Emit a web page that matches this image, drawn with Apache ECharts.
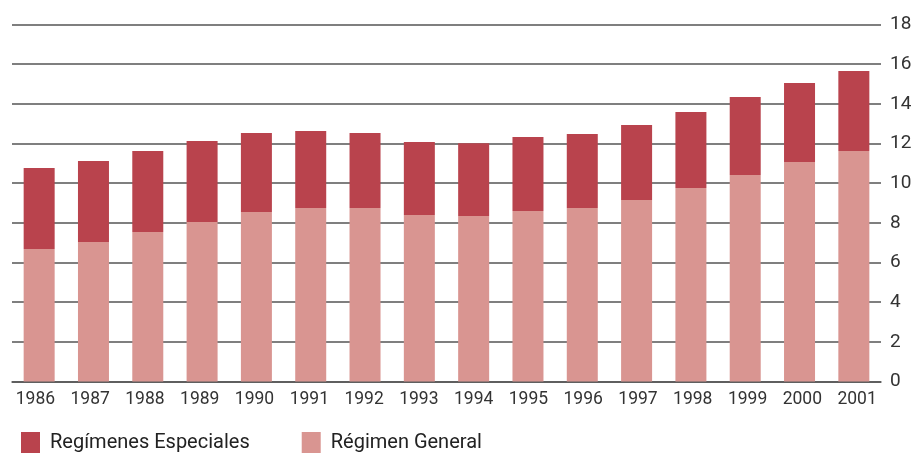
<!DOCTYPE html>
<html>
<head>
<meta charset="utf-8">
<script src="https://cdn.jsdelivr.net/npm/echarts@6/dist/echarts.min.js"></script>
<style>
  html, body { margin: 0; padding: 0; background: #fff; }
  .box { width: 916px; height: 457px; }
</style>
</head>
<body>
<div class="box"></div>
<script>
// datos
var years = ['1986', '1987', '1988', '1989', '1990', '1991', '1992', '1993',
  '1994', '1995', '1996', '1997', '1998', '1999', '2000', '2001'];
var general = [6.68, 7.03, 7.54, 8.04, 8.55, 8.75, 8.75, 8.39,
  8.35, 8.6, 8.75, 9.15, 9.76, 10.41, 11.07, 11.62];
var especiales = [4.09, 4.09, 4.08, 4.09, 3.98, 3.88, 3.78, 3.69,
  3.66, 3.73, 3.73, 3.78, 3.83, 3.94, 3.98, 4.04];
var yTicks = { min: 0, max: 18, interval: 2 };

var chart = echarts.init(document.querySelector('.box'));
var option = {
  animation: false,
  textStyle: { fontFamily: 'Roboto' },
  grid: [
    { left: 12, right: 35, top: 24.5, bottom: 75.5 },
    // rejilla solo para las etiquetas de los años (algo más ancha que las barras)
    { left: 8, right: 31.5, top: 24.5, bottom: 75.5 }
  ],
  legend: {
    data: ['Regímenes Especiales', 'Régimen General'],
    left: 21,
    top: 432,
    padding: 0,
    icon: 'rect',
    itemWidth: 19,
    itemHeight: 21,
    itemGap: 52,
    textStyle: {
      color: '#222',
      fontSize: 20,
      padding: [0, 0, 0, 5]
    }
  },
  xAxis: [
    {
      type: 'category',
      data: years,
      axisLine: { lineStyle: { color: '#555', width: 1.5 } },
      axisTick: { show: false },
      axisLabel: { show: false }
    },
    {
      type: 'category',
      gridIndex: 1,
      data: years,
      axisLine: { show: false },
      axisTick: { show: false },
      axisLabel: {
        color: '#333',
        fontSize: 17.5,
        margin: 9,
        interval: 0
      }
    }
  ],
  yAxis: [
    {
      type: 'value',
      position: 'right',
      min: yTicks.min,
      max: yTicks.max,
      interval: yTicks.interval,
      axisLine: { show: false },
      axisTick: { show: false },
      axisLabel: {
        color: '#333',
        fontSize: 19,
        margin: 9
      },
      splitLine: {
        lineStyle: { color: '#555', width: 1.5 }
      }
    },
    {
      type: 'value',
      gridIndex: 1,
      show: false,
      min: yTicks.min,
      max: yTicks.max
    }
  ],
  series: [
    {
      name: 'Régimen General',
      type: 'bar',
      stack: 'total',
      data: general,
      barWidth: 31,
      itemStyle: { color: '#d99591' }
    },
    {
      name: 'Regímenes Especiales',
      type: 'bar',
      stack: 'total',
      data: especiales,
      barWidth: 31,
      itemStyle: { color: '#b9434d' }
    }
  ]
};
chart.setOption(option);
window.addEventListener('resize', function () {
  chart.resize();
});
</script>
</body>
</html>
